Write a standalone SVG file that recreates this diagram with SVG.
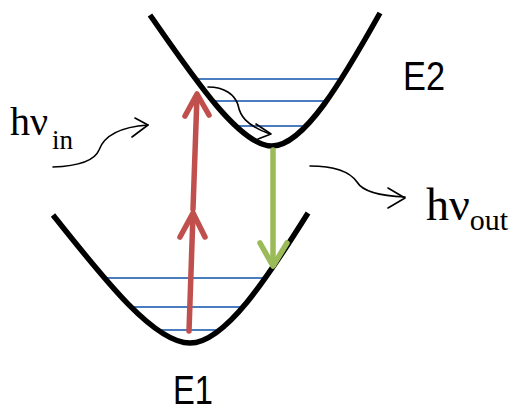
<svg xmlns="http://www.w3.org/2000/svg" width="515" height="413" viewBox="0 0 515 413">
<style>
.well{fill:none;stroke:#000;stroke-width:5.5;stroke-linecap:butt}
.lvl{stroke:#4a7cc0;stroke-width:2}
.lbl{font-family:"Liberation Sans",Arial,sans-serif;font-size:40px;fill:#000}
.hv{font-family:"Liberation Serif","Times New Roman",serif;fill:#000}
.red{fill:none;stroke:#c0504d;stroke-width:5.5;stroke-linecap:round;stroke-linejoin:round}
.green{fill:none;stroke:#9bbb59;stroke-width:5.5;stroke-linecap:round;stroke-linejoin:round}
.wave{fill:none;stroke:#000;stroke-width:1.6;stroke-linecap:round;stroke-linejoin:round}
</style>
<rect width="515" height="413" fill="#fff"/>
<g id="E2">
<line class="lvl" x1="195" y1="79" x2="342" y2="79"/>
<line class="lvl" x1="210" y1="101" x2="325" y2="101"/>
<line class="lvl" x1="237" y1="126" x2="307" y2="126"/>
<path class="well" d="M150,15 C195,80 240,146 272,146 C304,146 343,79 380,13"/>
<text class="lbl" x="403" y="90" textLength="42" lengthAdjust="spacingAndGlyphs">E2</text>
</g>
<g id="E1">
<line class="lvl" x1="105" y1="278" x2="267" y2="278"/>
<line class="lvl" x1="130" y1="307" x2="245" y2="307"/>
<line class="lvl" x1="158" y1="330" x2="222" y2="330"/>
<path class="well" d="M53,215 C103.5,278.5 154,343 190,343 C225,343 267.6,277.5 308,213"/>
<text class="lbl" x="173" y="404" font-size="38" textLength="40" lengthAdjust="spacingAndGlyphs">E1</text>
</g>
<g id="hv-in">
<text class="hv" x="10" y="135" font-size="40">hν<tspan font-size="27" dx="4" dy="14">in</tspan></text>
</g>
<g id="hv-out">
<text class="hv" x="426" y="220" font-size="46">hν<tspan font-size="30" dy="10">out</tspan></text>
</g>
<g id="connectors">
<path class="red" d="M189,331 L193,214"/>
<path class="red" d="M180,237 L193,213 L205,237"/>
<path class="red" d="M193,209 L197,96"/>
<path class="red" d="M185,116 L197,94 L209,115"/>
<path class="green" d="M273,150 L273,265"/>
<path class="green" d="M260,243 L273,266 L287,243"/>
<path class="wave" d="M208,87 C225,87 235,95 238,105 C240,115 245,125 270,134"/>
<path class="wave" d="M256,124 L271,134 L258,139"/>
<path class="wave" d="M53,167 C80,166 95,160 99,150 C104,136 120,127 148,125"/>
<path class="wave" d="M135,118 L148,125 L132,137"/>
<path class="wave" d="M310,166 C335,166 350,172 357,182 C363,192 380,196 405,197"/>
<path class="wave" d="M388,188 L405,198 L388,208"/>
</g>
</svg>
